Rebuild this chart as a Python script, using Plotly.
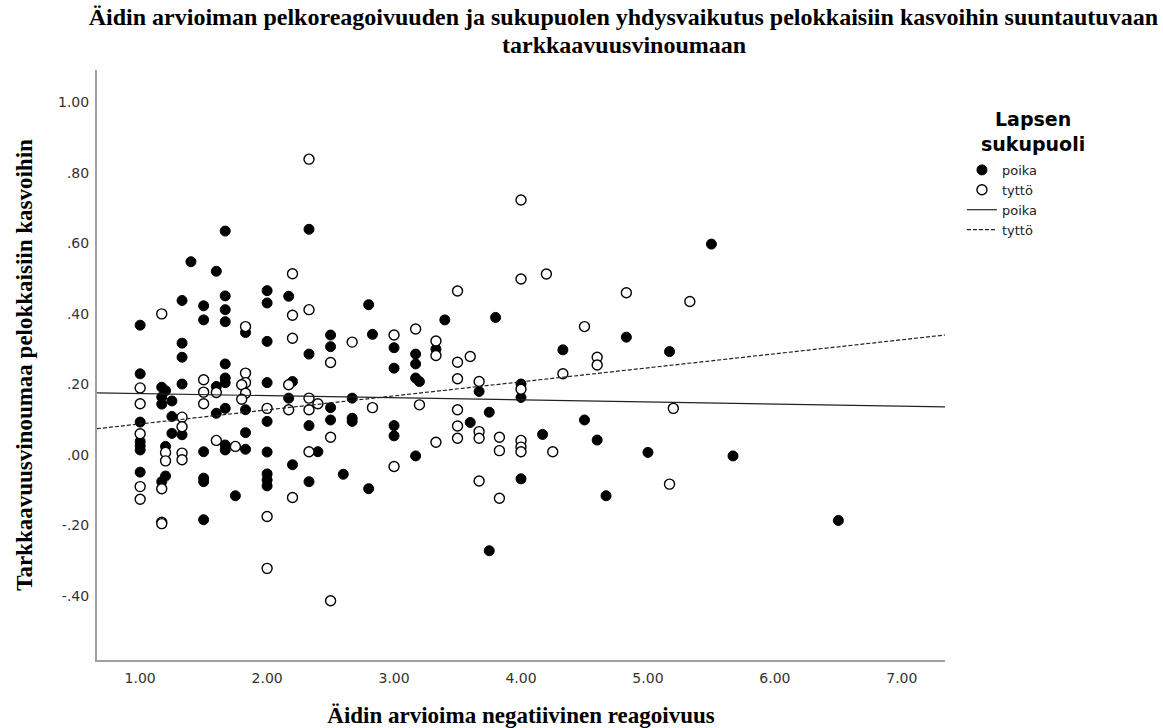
import plotly.graph_objects as go

# ---- data ----
boy_x = [1.67, 2.33, 1.40, 1.60, 1.33, 1.50, 1.67, 1.67, 2.00, 2.00, 2.17, 1.00, 1.50, 1.67, 1.83,
         2.80, 2.00, 2.50, 2.50, 2.83, 1.33, 1.33, 2.33, 1.67,
         1.00, 1.00, 1.00, 1.00, 1.00, 1.00,
         1.17, 1.20, 1.17, 1.17, 1.25, 1.25, 1.25, 1.20, 1.20, 1.17,
         1.33, 1.33, 1.50, 1.50, 1.50, 1.50,
         1.60, 1.60, 1.67, 1.67, 1.67, 1.67, 1.67, 1.75,
         1.83, 1.83, 1.83,
         2.00, 2.00, 2.00, 2.00, 2.00, 2.00,
         2.20, 2.17, 2.20, 2.33, 2.40, 2.33, 2.50, 2.50, 2.60,
         2.67, 2.67, 2.67, 2.80,
         3.40, 3.80, 3.00, 3.00, 3.17, 3.17, 3.33, 4.33, 4.83,
         3.17, 3.20, 3.67, 4.00, 4.00, 3.75, 3.60, 3.00, 3.00, 4.17, 4.50, 4.60, 5.00, 3.17,
         4.00, 4.67, 3.75,
         5.50, 5.17, 5.67, 6.50]
boy_y = [0.635, 0.640, 0.548, 0.521, 0.438, 0.423, 0.451, 0.412, 0.466, 0.431, 0.450, 0.368, 0.383, 0.378, 0.347,
         0.426, 0.322, 0.340, 0.307, 0.342, 0.317, 0.277, 0.286, 0.258,
         0.230, 0.093, 0.038, 0.026, 0.014, -0.049,
         0.192, 0.182, 0.164, 0.144, 0.153, 0.109, 0.061, 0.024, -0.060, -0.076,
         0.201, 0.057, 0.009, -0.066, -0.076, -0.184,
         0.194, 0.118, 0.218, 0.205, 0.132, 0.028, 0.014, -0.116,
         0.128, 0.063, 0.016,
         0.205, 0.095, 0.008, -0.054, -0.071, -0.088,
         0.208, 0.161, -0.028, 0.083, 0.009, -0.076, 0.134, 0.099, -0.055,
         0.161, 0.104, 0.095, -0.096,
         0.383, 0.390, 0.304, 0.246, 0.286, 0.258, 0.300, 0.298, 0.334,
         0.218, 0.208, 0.180, 0.201, 0.163, 0.121, 0.092, 0.083, 0.054, 0.058, 0.099, 0.042, 0.007, -0.003,
         -0.068, -0.116, -0.272,
         0.598, 0.293, -0.003, -0.186]

girl_x = [2.33, 2.20, 1.17, 1.83, 2.20, 2.33, 2.20, 2.67, 2.50,
          1.00, 1.00, 1.00, 1.00, 1.00, 1.20, 1.20, 1.17, 1.17, 1.17,
          1.33, 1.33, 1.33, 1.33, 1.50, 1.50, 1.50, 1.60, 1.60, 1.75,
          1.83, 1.83, 1.80, 1.83, 1.80, 2.00, 2.00, 2.00, 2.17, 2.17, 2.20,
          2.33, 2.33, 2.40, 2.33, 2.50, 2.50, 2.83,
          4.00, 4.00, 4.20, 3.50, 4.83, 3.00, 3.17, 3.33, 3.33, 3.50, 3.60, 4.50, 4.60, 4.60,
          3.50, 3.67, 4.00, 4.33, 3.20, 3.50, 3.50, 3.50, 3.67, 3.67, 3.33, 3.83, 3.83,
          4.00, 4.00, 4.00, 4.25, 3.00, 3.67, 3.83,
          5.33, 5.20, 5.17]
girl_y = [0.839, 0.514, 0.400, 0.364, 0.396, 0.412, 0.331, 0.320, 0.262,
          0.190, 0.145, 0.060, -0.090, -0.126, 0.007, -0.017, -0.096, -0.191, -0.195,
          0.107, 0.080, 0.005, -0.014, 0.213, 0.178, 0.145, 0.177, 0.041, 0.024,
          0.232, 0.205, 0.199, 0.175, 0.158, 0.132, -0.175, -0.322, 0.199, 0.128, -0.121,
          0.161, 0.128, 0.145, 0.009, 0.050, -0.414, 0.134,
          0.723, 0.499, 0.513, 0.465, 0.460, 0.340, 0.357, 0.323, 0.282, 0.263, 0.279, 0.364, 0.277, 0.255,
          0.216, 0.208, 0.186, 0.230, 0.142, 0.128, 0.082, 0.047, 0.066, 0.047, 0.036, 0.050, 0.012,
          0.041, 0.022, 0.009, 0.009, -0.033, -0.074, -0.123,
          0.435, 0.132, -0.083]

# linear fit lines (intercept, slope)
boy_fit = (0.180, -0.0060)
girl_fit = (0.048, 0.0398)

x_range = [0.66, 7.34]
y_range = [-0.582, 1.092]
x_ticks = [1, 2, 3, 4, 5, 6, 7]
y_ticks = [-0.4, -0.2, 0.0, 0.2, 0.4, 0.6, 0.8, 1.0]

title_line1 = ("Äidin arvioiman pelkoreagoivuuden ja sukupuolen yhdysvaikutus pelokkaisiin kasvoihin "
               "suuntautuvaan")
title_line2 = "tarkkaavuusvinoumaan"
x_title = "Äidin arvioima negatiivinen reagoivuus"
y_title = "Tarkkaavuusvinoumaa pelokkaisiin kasvoihin"
legend_title = "Lapsen<br>sukupuoli"


def fmt(v):
    s = f"{v:.2f}"
    if s.startswith("0."):
        s = s[1:]
    elif s.startswith("-0."):
        s = "-" + s[2:]
    return s


def fit_line(coef):
    a, b = coef
    return [a + b * x for x in x_range]


fig = go.Figure()
fig.add_trace(go.Scatter(x=boy_x, y=boy_y, mode="markers", name="poika",
                         marker=dict(symbol="circle", size=10, color="black",
                                     line=dict(color="black", width=1))))
fig.add_trace(go.Scatter(x=girl_x, y=girl_y, mode="markers", name="tyttö",
                         marker=dict(symbol="circle", size=10, color="white",
                                     line=dict(color="black", width=1.4))))
fig.add_trace(go.Scatter(x=x_range, y=fit_line(boy_fit), mode="lines", name="poika",
                         line=dict(color="#222222", width=1.2)))
fig.add_trace(go.Scatter(x=x_range, y=fit_line(girl_fit), mode="lines", name="tyttö",
                         line=dict(color="#222222", width=1.2, dash="4px,2px")))

serif = "Liberation Serif"
sans = "DejaVu Sans"
title_font = dict(family=serif, size=24, color="black", weight="bold")

fig.update_layout(
    width=1163, height=728,
    autosize=False,
    margin=dict(l=97, r=218, t=70, b=68, autoexpand=False),
    paper_bgcolor="white",
    plot_bgcolor="white",
    title=dict(text=title_line1, x=0.536, xanchor="center", y=0.977, yanchor="middle",
               font=title_font),
    showlegend=True,
    legend=dict(x=1.020, xanchor="left", y=0.856, yanchor="top",
                font=dict(family=sans, size=13, color="#222222"),
                itemwidth=30, tracegroupgap=0, bgcolor="rgba(0,0,0,0)"),
    xaxis=dict(range=x_range, tickvals=x_ticks, ticktext=[fmt(v) for v in x_ticks],
               showgrid=False, zeroline=False, showline=True, linecolor="#a0a0a0", linewidth=2,
               ticks="", ticklabelstandoff=4, automargin=False,
               tickfont=dict(family=sans, size=14, color="#333333"),
               title=dict(text=x_title, standoff=26,
                          font=dict(family=serif, size=23, color="black", weight="bold"))),
    yaxis=dict(range=y_range, tickvals=y_ticks, ticktext=[fmt(v) for v in y_ticks],
               showgrid=False, zeroline=False, showline=True, linecolor="#a0a0a0", linewidth=2,
               ticks="", ticklabelstandoff=3, automargin=False,
               tickfont=dict(family=sans, size=14, color="#333333"),
               title=dict(text=y_title, standoff=19,
                          font=dict(family=serif, size=23, color="black", weight="bold"))),
    annotations=[
        dict(text=title_line2, xref="paper", yref="paper", x=0.621, y=1.0424,
             xanchor="center", yanchor="middle", showarrow=False, font=title_font),
        dict(text="<b>" + legend_title + "</b>", xref="paper", yref="paper",
             x=1.104, y=0.8966, xanchor="center", yanchor="middle", showarrow=False,
             font=dict(family=sans, size=19, color="black")),
    ],
)

# remove the browser's default page margin so the figure sits at the top-left corner
fig.write_html("out.html", config={"displayModeBar": False},
               post_script="document.body.style.margin='0px';")
